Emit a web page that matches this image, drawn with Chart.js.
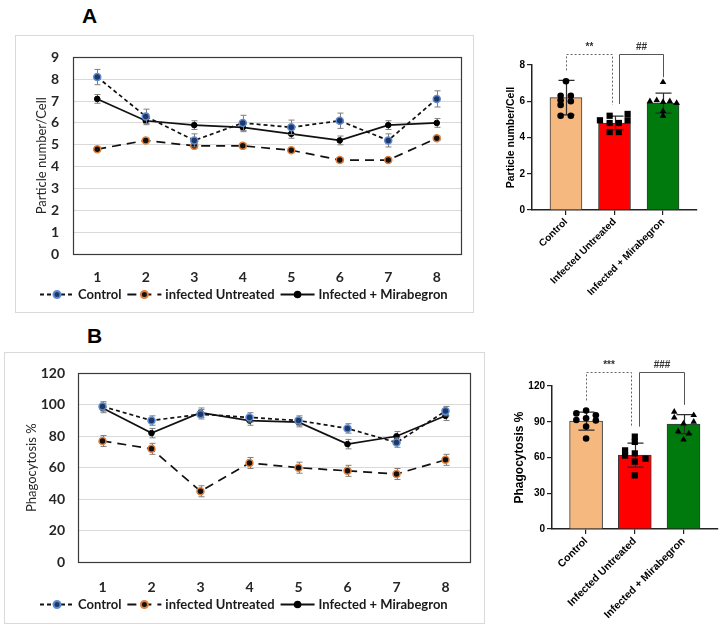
<!DOCTYPE html>
<html>
<head>
<meta charset="utf-8">
<title>Particle number and phagocytosis</title>
<script src="https://cdn.jsdelivr.net/npm/chart.js@4.4.0/dist/chart.umd.min.js"></script>
<style>
  body { margin: 0; background: #fff; width: 722px; height: 626px; position: relative; overflow: hidden; }
  .panel-label { position: absolute; font: bold 21px 'Liberation Sans', Arial, sans-serif; color: #000; line-height: 24px; }
  .box { position: absolute; border: 1px solid #d9d9d9; box-sizing: border-box; }
  canvas { position: absolute; }
</style>
</head>
<body>
<div class="panel-label" style="left:82px; top:4px;">A</div>
<div class="panel-label" style="left:87px; top:324px;">B</div>
<div class="box" style="left:15px; top:35px; width:459px; height:278px;"></div>
<div class="box" style="left:4px; top:352px; width:481px; height:272px;"></div>
<canvas id="lineA" width="458" height="277" style="left:15px; top:35px;"></canvas>
<canvas id="barA" width="246" height="270" style="left:476px; top:30px;"></canvas>
<canvas id="lineB" width="480" height="271" style="left:4px; top:352px;"></canvas>
<canvas id="barB" width="232" height="286" style="left:490px; top:340px;"></canvas>
<script>
// ---- datos ----
const days = ['1', '2', '3', '4', '5', '6', '7', '8'];
const seriesNames = ['Control', 'infected Untreated', 'Infected + Mirabegron'];
const groupNames = ['Control', 'Infected Untreated', 'Infected + Mirabegron'];

// A: particle number / cell (linea)
const particleControl = [8.1, 6.3, 5.2, 6.0, 5.8, 6.1, 5.2, 7.1];
const particleControlErr = [0.35, 0.33, 0.3, 0.35, 0.33, 0.35, 0.3, 0.37];
const particleUntreated = [4.8, 5.2, 4.95, 4.95, 4.75, 4.3, 4.3, 5.3];
const particleUntreatedErr = [0.1, 0.1, 0.1, 0.1, 0.1, 0.1, 0.1, 0.1];
const particleMira = [7.1, 6.1, 5.9, 5.8, 5.5, 5.2, 5.9, 6.0];
const particleMiraErr = [0.2, 0.18, 0.2, 0.2, 0.2, 0.2, 0.2, 0.2];

// B: phagocytosis % (linea)
const phagoControl = [99, 90, 94, 92, 90, 85, 76, 96];
const phagoControlErr = [3, 3, 3, 3, 3, 3, 3, 3];
const phagoUntreated = [77, 72, 45, 63, 60, 58, 56, 65];
const phagoUntreatedErr = [3.5, 3.5, 3.5, 3.5, 3.5, 3.5, 3.5, 3.5];
const phagoMira = [98, 82, 95, 90, 89, 75, 80, 93];
const phagoMiraErr = [3, 3, 3, 3, 3, 3, 3, 3];

// A: barras (media, SD, puntos individuales)
const particleMeans = [6.2, 4.8, 5.9];
const particleSd = [0.95, 0.38, 0.55];
const particleCtrlPts = [7.1, 6.3, 6.3, 6.05, 6.0, 5.8, 5.2, 5.2];
const particleUntrPts = [4.95, 5.2, 5.3, 4.95, 4.8, 4.8, 4.3, 4.3];
const particleMiraPts = [7.05, 6.0, 6.05, 5.95, 6.0, 5.9, 5.45, 5.2];

// B: barras
const phagoMeans = [90.5, 62, 88];
const phagoSd = [7.5, 10, 8];
const phagoCtrlPts = [97, 99.5, 95.5, 91.5, 93, 91, 86, 76];
const phagoUntrPts = [77.5, 73, 66, 61.5, 63.5, 56.5, 59, 45];
const phagoMiraPts = [98.3, 93.5, 95.5, 90, 88.5, 82, 80, 75];

// dispersion horizontal de los puntos (en unidades de categoria)
const jitterA = [[0, -0.11, 0.1, -0.11, 0.1, -0.11, -0.11, 0.1],
                 [-0.3, -0.1, 0.27, 0.27, -0.1, 0.09, -0.1, 0.09],
                 [0, -0.27, -0.13, 0, 0.14, 0.28, 0, 0]];
const jitterB = [[-0.2, 0, 0.2, -0.2, 0, 0.2, 0, 0],
                 [0, 0, -0.2, -0.2, 0, 0, 0.22, 0],
                 [-0.19, -0.19, 0.21, 0.21, 0, -0.11, 0.11, 0]];

// ---- plugins ----
function drawErrors(chart, ds, meta) {
  const ctx = chart.ctx;
  const yScale = chart.scales[meta.yAxisID];
  ctx.save();
  ctx.strokeStyle = ds.errorColor;
  ctx.lineWidth = ds.errorWidth || 1;
  meta.data.forEach((el, i) => {
    const raw = ds.data[i];
    const v = typeof raw === 'object' ? raw.y : raw;
    const e = ds.errors[i];
    const x = Math.round(el.x) + 0.5;
    const yHi = yScale.getPixelForValue(v + e);
    const yLo = yScale.getPixelForValue(v - e);
    const c = ds.errorCap;
    ctx.beginPath();
    ctx.moveTo(x, yHi); ctx.lineTo(x, yLo);
    ctx.moveTo(x - c, yHi); ctx.lineTo(x + c, yHi);
    ctx.moveTo(x - c, yLo); ctx.lineTo(x + c, yLo);
    ctx.stroke();
  });
  ctx.restore();
}

const errorBars = {
  id: 'errorBars',
  beforeDatasetDraw(chart, args) {
    const ds = chart.data.datasets[args.index];
    if (ds.errors && !ds.errorsOnTop) drawErrors(chart, ds, args.meta);
  },
  afterDatasetDraw(chart, args) {
    const ds = chart.data.datasets[args.index];
    if (ds.errors && ds.errorsOnTop) drawErrors(chart, ds, args.meta);
  }
};

// marco del area de trazado (estilo Excel)
const plotFrame = {
  id: 'plotFrame',
  beforeDatasetsDraw(chart) {
    const {ctx, chartArea: a} = chart;
    ctx.save();
    ctx.strokeStyle = '#3a3a3a';
    ctx.lineWidth = 1.2;
    ctx.strokeRect(Math.round(a.left) + 0.5, Math.round(a.top) + 0.5, Math.round(a.width), Math.round(a.height));
    ctx.restore();
  }
};

// leyenda tipo Excel: linea con marcador en medio
const lineLegend = {
  id: 'lineLegend',
  afterDraw(chart, args, opts) {
    const {ctx, chartArea} = chart;
    const sample = 34, gapIn = 4, gapOut = 6;
    ctx.save();
    ctx.font = opts.font;
    const items = chart.data.datasets.map(ds => ({ds, w: ctx.measureText(ds.label).width}));
    const total = items.reduce((t, it) => t + sample + gapIn + it.w, 0) + gapOut * (items.length - 1);
    let x = Math.round((chart.width - total) / 2) + (opts.shift || 0);
    const y = Math.round(chartArea.bottom + opts.offset) + 0.5;
    items.forEach(it => {
      const ds = it.ds;
      ctx.strokeStyle = ds.borderColor;
      ctx.lineWidth = 2;
      ctx.setLineDash(ds.borderDash || []);
      ctx.beginPath();
      ctx.moveTo(x, y); ctx.lineTo(x + sample, y);
      ctx.stroke();
      ctx.setLineDash([]);
      ctx.fillStyle = ds.pointBackgroundColor;
      ctx.strokeStyle = ds.pointBorderColor;
      Chart.helpers.drawPoint(ctx, {pointStyle: 'circle', radius: ds.pointRadius, borderWidth: ds.pointBorderWidth, rotation: 0}, x + sample / 2, y);
      ctx.fillStyle = opts.color;
      ctx.textBaseline = 'middle';
      ctx.textAlign = 'left';
      ctx.fillText(ds.label, x + sample + gapIn, y);
      x += sample + gapIn + it.w + gapOut;
    });
    ctx.restore();
  }
};

// corchetes de significacion sobre las barras
const sigBrackets = {
  id: 'sigBrackets',
  afterDatasetsDraw(chart, args, opts) {
    const {ctx, scales: {x, y}} = chart;
    const topOf = g => {
      // el punto mas alto del grupo (barra + SD o puntos individuales)
      const bar = chart.data.datasets[0];
      const pts = chart.data.datasets[g + 1].data.map(p => p.y);
      return y.getPixelForValue(Math.max(bar.data[g].y + bar.errors[g], ...pts));
    };
    const yTop = Math.round(y.getPixelForValue(opts.top)) + 0.5;
    ctx.save();
    opts.items.forEach(b => {
      const xa = Math.round(x.getPixelForValue(b.a + b.aOff)) + 0.5;
      const xb = Math.round(x.getPixelForValue(b.b + b.bOff)) + 0.5;
      ctx.strokeStyle = b.color;
      ctx.lineWidth = 1;
      ctx.setLineDash(b.dash);
      ctx.beginPath();
      ctx.moveTo(xa, topOf(b.a) - b.gapA);
      ctx.lineTo(xa, yTop);
      ctx.lineTo(xb, yTop);
      ctx.lineTo(xb, topOf(b.b) - b.gapB);
      ctx.stroke();
      ctx.setLineDash([]);
      ctx.fillStyle = '#333';
      ctx.font = opts.font;
      ctx.textAlign = 'center';
      ctx.textBaseline = 'middle';
      ctx.fillText(b.label, (xa + xb) / 2, yTop - opts.labelGap);
    });
    ctx.restore();
  }
};

Chart.defaults.font.family = 'Lato';
Chart.defaults.animation = false;

// ---- graficos de linea ----
function lineChart(canvasId, cfg) {
  const tickFont = {family: 'Lato', size: 14, weight: 'bold'};
  return new Chart(document.getElementById(canvasId), {
    type: 'line',
    data: {
      labels: days,
      datasets: [
        {
          label: seriesNames[0], data: cfg.control, errors: cfg.controlErr,
          borderColor: '#111', borderWidth: 1.7, borderDash: [4, 3],
          pointRadius: 3.5, pointBackgroundColor: '#1f3864', pointBorderColor: '#5b8ad6', pointBorderWidth: 1.5,
          errorColor: '#7f7f7f', errorCap: 3
        },
        {
          label: seriesNames[1], data: cfg.untreated, errors: cfg.untreatedErr,
          borderColor: '#111', borderWidth: 1.7, borderDash: [9, 6],
          pointRadius: 3.5, pointBackgroundColor: '#111', pointBorderColor: '#e2803c', pointBorderWidth: 1.5,
          errorColor: '#7f7f7f', errorCap: 3
        },
        {
          label: seriesNames[2], data: cfg.mira, errors: cfg.miraErr,
          borderColor: '#111', borderWidth: 1.7, borderDash: [],
          pointRadius: 2.8, pointBackgroundColor: '#000', pointBorderColor: '#000', pointBorderWidth: 1,
          errorColor: '#7f7f7f', errorCap: 3
        }
      ]
    },
    options: {
      responsive: false,
      devicePixelRatio: 1,
      layout: {padding: cfg.padding},
      plugins: {
        legend: {display: false},
        tooltip: {enabled: false},
        lineLegend: {font: 'bold 13px Lato', color: '#1a1a1a', offset: cfg.legendOffset}
      },
      scales: {
        x: {
          offset: true,
          grid: {display: false},
          border: {display: false},
          ticks: {font: tickFont, color: '#262626', padding: cfg.xTickPad},
          afterFit: s => { s.height = cfg.xHeight; }
        },
        y: {
          min: 0, max: cfg.yMax,
          ticks: {stepSize: cfg.yStep, font: tickFont, color: '#262626', padding: cfg.yTickPad},
          grid: {color: '#d9d9d9', drawTicks: false},
          border: {display: false},
          title: {display: true, text: cfg.yTitle, color: '#262626', font: {family: 'Lato', size: 13}, padding: {top: cfg.titlePad, bottom: 0}},
          afterFit: s => { s.width = cfg.yWidth; }
        }
      }
    },
    plugins: [plotFrame, errorBars, lineLegend]
  });
}

lineChart('lineA', {
  control: particleControl, controlErr: particleControlErr,
  untreated: particleUntreated, untreatedErr: particleUntreatedErr,
  mira: particleMira, miraErr: particleMiraErr,
  yMax: 9, yStep: 1, yTitle: 'Particle number/Cell',
  padding: {top: 13, right: 12, left: 0, bottom: 0},
  xHeight: 58, yWidth: 58, xTickPad: 7, yTickPad: 14, titlePad: 19, legendOffset: 40
});

lineChart('lineB', {
  control: phagoControl, controlErr: phagoControlErr,
  untreated: phagoUntreated, untreatedErr: phagoUntreatedErr,
  mira: phagoMira, miraErr: phagoMiraErr,
  yMax: 120, yStep: 20, yTitle: 'Phagocytosis %',
  padding: {top: 15, right: 14, left: 0, bottom: 0},
  xHeight: 61, yWidth: 74, xTickPad: 9, yTickPad: 13, titlePad: 20, legendOffset: 42
});

// ---- graficos de barras ----
function barChart(canvasId, cfg) {
  const font = size => ({family: 'Liberation Sans', size: size, weight: 'bold'});
  const pointSets = [cfg.ctrlPts, cfg.untrPts, cfg.miraPts];
  const styles = ['circle', 'rect', 'triangle'];
  const radii = [3.3, 4.4, 3.8];
  const scatterSets = pointSets.map((pts, g) => ({
    type: 'scatter',
    data: pts.map((v, k) => ({x: g + cfg.jitter[g][k], y: v})),
    pointStyle: styles[g], pointRadius: radii[g],
    backgroundColor: '#000', borderColor: '#000', borderWidth: 0,
    order: 0
  }));
  return new Chart(document.getElementById(canvasId), {
    type: 'bar',
    data: {
      datasets: [
        {
          type: 'bar',
          data: cfg.means.map((m, g) => ({x: g, y: m})),
          errors: cfg.sd, errorsOnTop: true, errorColor: '#2b2b2b', errorCap: 8, errorWidth: 1.2,
          backgroundColor: ['#f5b97f', '#ff0000', '#007a0c'],
          borderColor: '#3b3b3b', borderWidth: 1,
          barThickness: cfg.barWidth,
          order: 1
        },
        ...scatterSets
      ]
    },
    options: {
      responsive: false,
      devicePixelRatio: 1,
      layout: {padding: cfg.padding},
      plugins: {
        legend: {display: false},
        tooltip: {enabled: false},
        sigBrackets: {top: cfg.bracketTop, items: cfg.brackets, font: 'bold 10px "Liberation Sans"', labelGap: 7}
      },
      scales: {
        x: {
          type: 'linear', min: -0.7, max: 2.7, offset: false,
          afterBuildTicks: s => { s.ticks = groupNames.map((n, g) => ({value: g})); },
          ticks: {callback: v => groupNames[v], minRotation: 45, maxRotation: 45, autoSkip: false, font: font(cfg.xFont), color: '#000', padding: 1},
          grid: {display: true, offset: false, drawOnChartArea: false, tickLength: 5, color: '#222', lineWidth: 1.2},
          border: {color: '#222', width: 1.5},
          afterFit: s => { s.height = cfg.xHeight; }
        },
        y: {
          min: 0, max: cfg.yMax,
          ticks: {stepSize: cfg.yStep, font: font(10), color: '#000', padding: 2},
          grid: {drawOnChartArea: false, tickLength: 5, color: '#222', lineWidth: 1.2},
          border: {color: '#222', width: 1.5},
          title: {display: true, text: cfg.yTitle, color: '#000', font: font(cfg.titleFont), padding: {top: cfg.titlePad, bottom: 0}},
          afterFit: s => { s.width = cfg.yWidth; }
        }
      }
    },
    plugins: [errorBars, sigBrackets]
  });
}

barChart('barA', {
  means: particleMeans, sd: particleSd,
  ctrlPts: particleCtrlPts, untrPts: particleUntrPts, miraPts: particleMiraPts, jitter: jitterA,
  yMax: 8, yStep: 2, yTitle: 'Particle number/Cell', titleFont: 10.5, titlePad: 29, xFont: 10,
  padding: {top: 35, right: 25, left: 0, bottom: 0}, xHeight: 90, yWidth: 56, barWidth: 32,
  bracketTop: 8.6,
  brackets: [
    {a: 0, aOff: 0, b: 1, bOff: -0.06, gapA: 10, gapB: 9, label: '**', dash: [2, 2], color: '#666'},
    {a: 1, aOff: 0.1, b: 2, bOff: 0, gapA: 10, gapB: 5, label: '##', dash: [], color: '#555'}
  ]
});

barChart('barB', {
  means: phagoMeans, sd: phagoSd,
  ctrlPts: phagoCtrlPts, untrPts: phagoUntrPts, miraPts: phagoMiraPts, jitter: jitterB,
  yMax: 120, yStep: 30, yTitle: 'Phagocytosis %', titleFont: 12, titlePad: 22, xFont: 10.5,
  padding: {top: 46, right: 4, left: 0, bottom: 0}, xHeight: 97, yWidth: 62, barWidth: 33,
  bracketTop: 132,
  brackets: [
    {a: 0, aOff: 0, b: 1, bOff: -0.08, gapA: 10, gapB: 9, label: '***', dash: [2, 2], color: '#666'},
    {a: 1, aOff: 0.08, b: 2, bOff: 0, gapA: 10, gapB: 7, label: '###', dash: [], color: '#555'}
  ]
});
</script>
</body>
</html>
